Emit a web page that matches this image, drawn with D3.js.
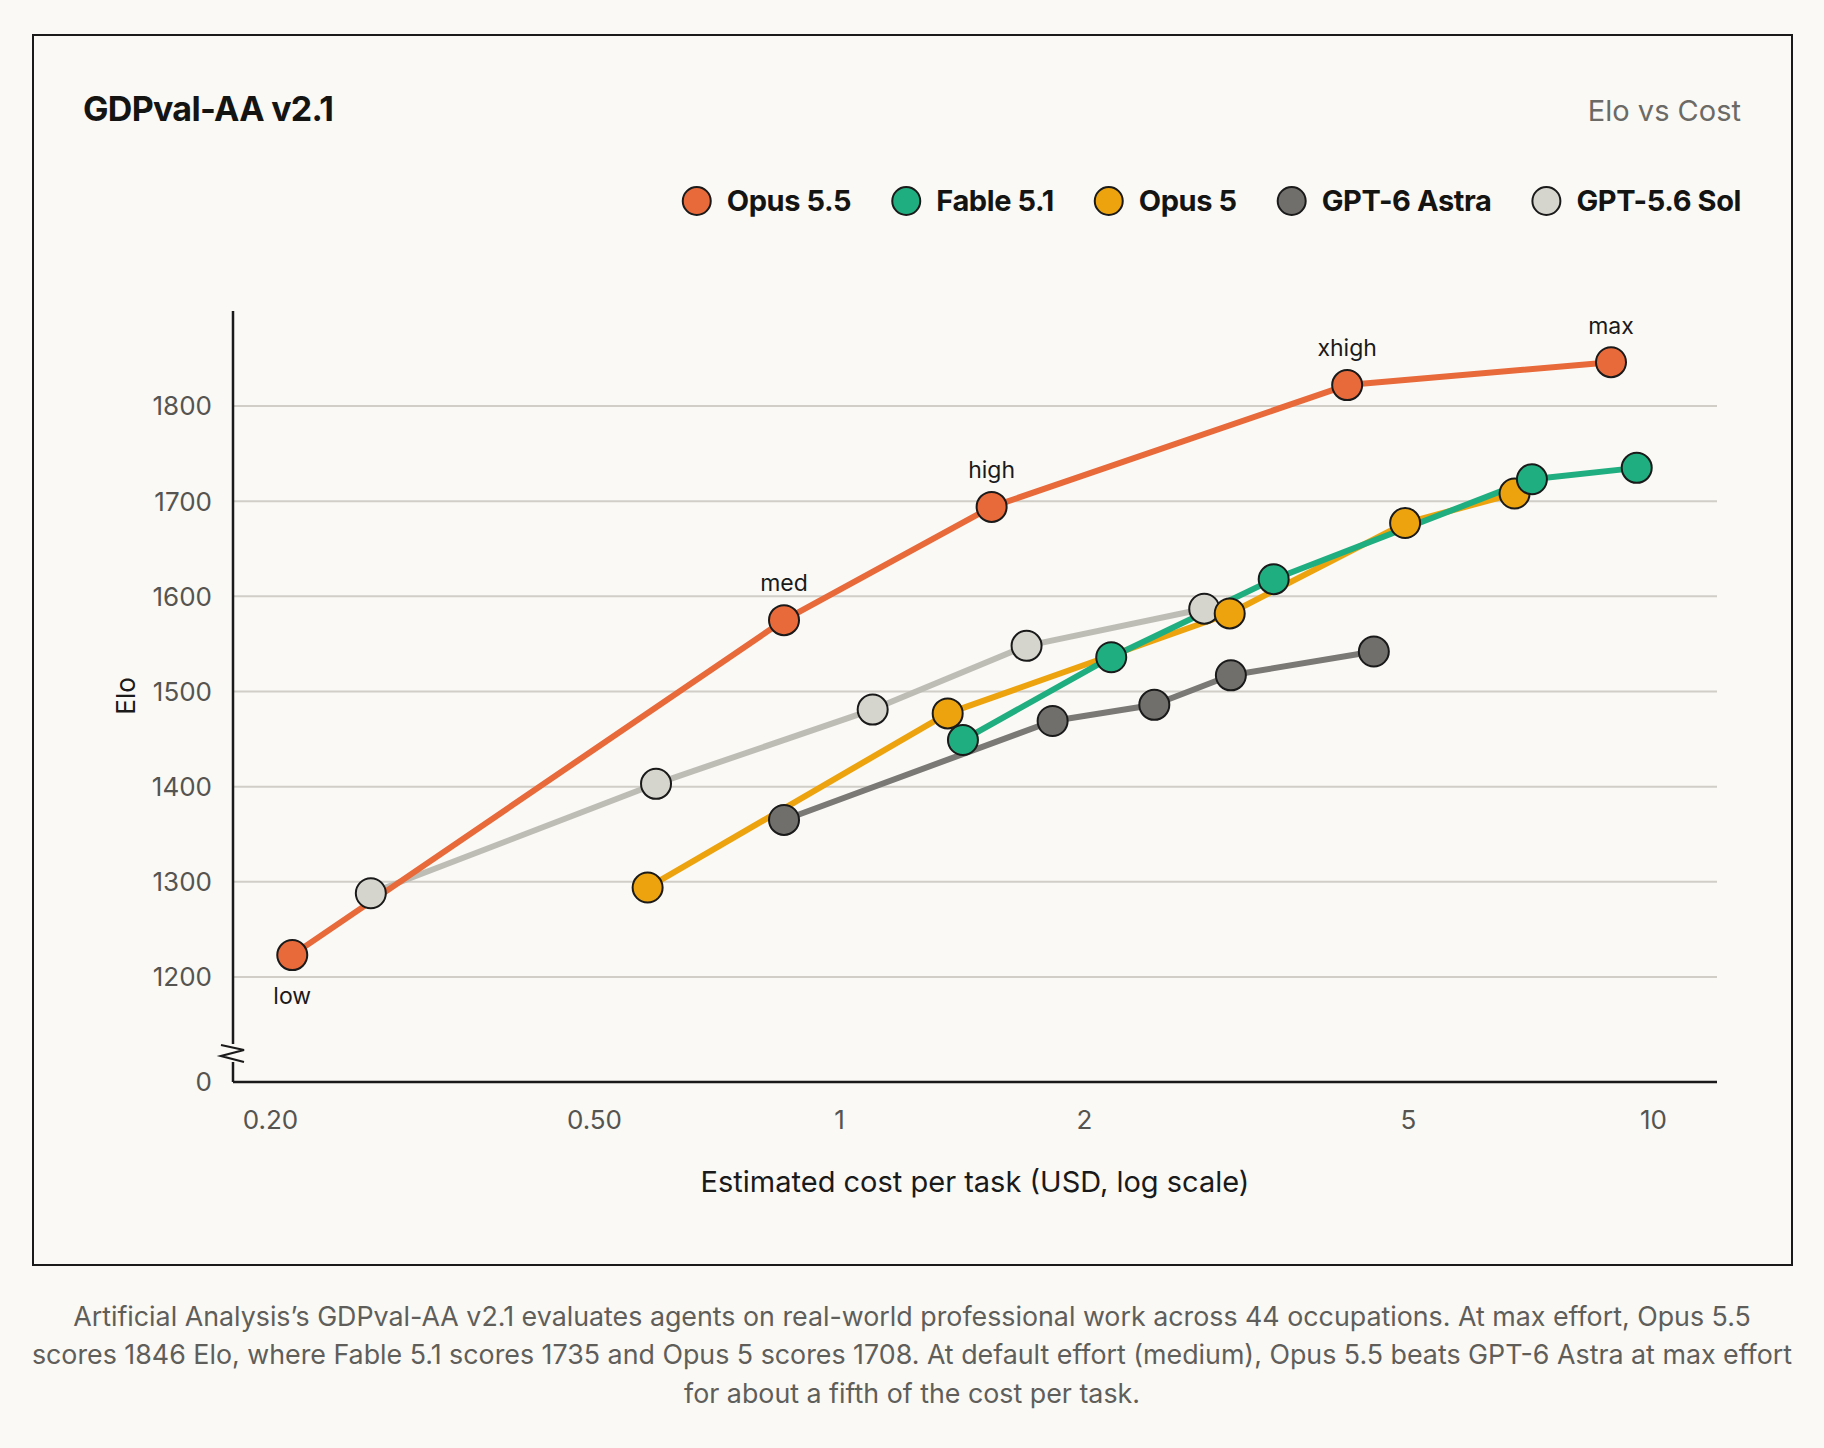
<!DOCTYPE html>
<html>
<head>
<meta charset="utf-8">
<script src="https://cdn.jsdelivr.net/npm/d3@7"></script>
<style>
  body { margin: 0; background: #faf9f5; }
  svg { display: block; font-family: Inter, "Open Sans", sans-serif; }
</style>
</head>
<body>
<div id="viz"></div>
<script>

// data
var seriesNames = ["Opus 5.5", "Fable 5.1", "Opus 5", "GPT-6 Astra", "GPT-5.6 Sol"];
var seriesFill  = ["#e8693a", "#1fae7f", "#eca30d", "#706f6b", "#d6d5cd"];
var seriesLine  = ["#e8693a", "#1fae7f", "#eca30d", "#7a7975", "#bebdb5"];

var opus55Cost = [0.213, 0.856, 1.54, 4.21, 8.88];
var opus55Elo  = [1223, 1575, 1694, 1822, 1846];
var opus55Tags = ["low", "med", "high", "xhigh", "max"];

var fableCost = [1.42, 2.16, 3.42, 7.10, 9.55];
var fableElo  = [1449, 1536, 1618, 1723, 1735];

var opus5Cost = [0.582, 1.36, 3.02, 4.96, 6.76];
var opus5Elo  = [1294, 1477, 1582, 1677, 1708];

var astraCost = [0.856, 1.83, 2.44, 3.03, 4.54];
var astraElo  = [1365, 1469, 1486, 1517, 1542];

var solCost = [0.266, 0.596, 1.10, 1.70, 2.81];
var solElo  = [1288, 1403, 1481, 1548, 1587];

var xTicks = [0.2, 0.5, 1, 2, 5, 10];
var xTickLabels = ["0.20", "0.50", "1", "2", "5", "10"];
var yTicks = [1200, 1300, 1400, 1500, 1600, 1700, 1800];

var captionLines = [
  "Artificial Analysis\u2019s GDPval-AA v2.1 evaluates agents on real-world professional work across 44 occupations. At max effort, Opus 5.5",
  "scores 1846 Elo, where Fable 5.1 scores 1735 and Opus 5 scores 1708. At default effort (medium), Opus 5.5 beats GPT-6 Astra at max effort",
  "for about a fifth of the cost per task."
];

var W = 1824, H = 1448;
var plotL = 233, plotR = 1717, plotT = 311, plotB = 1082;

var svg = d3.select("#viz").append("svg").attr("width", W).attr("height", H);
svg.append("rect").attr("width", W).attr("height", H).attr("fill", "#faf9f5");

// frame
svg.append("rect")
  .attr("x", 33).attr("y", 35).attr("width", 1759).attr("height", 1230)
  .attr("fill", "#faf9f5").attr("stroke", "#1a1a1a").attr("stroke-width", 2);

var x = d3.scaleLog().domain([0.2, 10]).range([270, 1653]);
var y = d3.scaleLinear().domain([1200, 1800]).range([977, 406]);
var yZero = plotB;

// gridlines
svg.append("g").selectAll("line").data(yTicks).join("line")
  .attr("x1", plotL).attr("x2", plotR)
  .attr("y1", function(d) { return y(d); }).attr("y2", function(d) { return y(d); })
  .attr("stroke", "#d0cec7").attr("stroke-width", 2);

// y labels
var yLab = svg.append("g").attr("font-size", 26).attr("fill", "#555450").attr("text-anchor", "end");
yLab.selectAll("text").data(yTicks).join("text")
  .attr("x", 212).attr("y", function(d) { return y(d); }).attr("dy", "0.36em")
  .text(function(d) { return d; });
yLab.append("text").attr("x", 212).attr("y", yZero).attr("dy", "0.36em").text("0");

// x axis via d3
var xAxis = d3.axisBottom(x).tickValues(xTicks).tickSize(0).tickPadding(0)
  .tickFormat(function(d, i) { return xTickLabels[i]; });
var gx = svg.append("g").attr("transform", "translate(0," + (yZero + 38) + ")").call(xAxis);
gx.select(".domain").remove();
gx.selectAll("text").attr("font-size", 26).attr("fill", "#555450")
  .attr("font-family", "Inter, 'Open Sans', sans-serif").attr("dy", "0.36em");

// axis lines with break
var axisC = "#1a1a1a";
svg.append("line").attr("x1", plotL).attr("x2", plotR).attr("y1", yZero).attr("y2", yZero)
  .attr("stroke", axisC).attr("stroke-width", 2.5);
svg.append("line").attr("x1", plotL).attr("x2", plotL).attr("y1", plotT).attr("y2", 1044)
  .attr("stroke", axisC).attr("stroke-width", 2.5);
svg.append("line").attr("x1", plotL).attr("x2", plotL).attr("y1", 1062).attr("y2", yZero)
  .attr("stroke", axisC).attr("stroke-width", 2.5);
svg.append("path")
  .attr("d", "M" + (plotL - 12) + ",1045 L" + (plotL + 11) + ",1050 L" + (plotL - 12) + ",1056 L" + (plotL + 11) + ",1062")
  .attr("fill", "none").attr("stroke", axisC).attr("stroke-width", 2.2);

// axis titles
svg.append("text").attr("x", 975).attr("y", 1182).attr("dy", "0.36em")
  .attr("text-anchor", "middle").attr("font-size", 29).attr("fill", "#1a1a1a")
  .text("Estimated cost per task (USD, log scale)");
svg.append("text").attr("transform", "translate(126,696) rotate(-90)")
  .attr("dy", "0.36em").attr("text-anchor", "middle").attr("font-size", 26).attr("fill", "#1a1a1a")
  .text("Elo");

// title
svg.append("text").attr("x", 83).attr("y", 121).attr("font-size", 34).attr("font-weight", 700)
  .attr("fill", "#141413").attr("letter-spacing", -0.7).text("GDPval-AA v2.1");
svg.append("text").attr("x", 1741).attr("y", 121).attr("font-size", 29).attr("text-anchor", "end")
  .attr("fill", "#6b6a66").text("Elo vs Cost");

// series lines + points
var allCost = [opus55Cost, fableCost, opus5Cost, astraCost, solCost];
var allElo  = [opus55Elo, fableElo, opus5Elo, astraElo, solElo];
var drawOrder = [4, 3, 2, 1, 0];

var line = d3.line().x(function(d) { return x(d[0]); }).y(function(d) { return y(d[1]); });

drawOrder.forEach(function(si) {
  var pts = d3.zip(allCost[si], allElo[si]);
  svg.append("path").datum(pts).attr("d", line)
    .attr("fill", "none").attr("stroke", seriesLine[si]).attr("stroke-width", 6)
    .attr("stroke-linejoin", "round");
});
drawOrder.forEach(function(si) {
  var pts = d3.zip(allCost[si], allElo[si]);
  svg.append("g").selectAll("circle").data(pts).join("circle")
    .attr("cx", function(d) { return x(d[0]); })
    .attr("cy", function(d) { return y(d[1]); })
    .attr("r", 15)
    .attr("fill", seriesFill[si]).attr("stroke", "#1a1a1a").attr("stroke-width", 2);
});

// effort tags on Opus 5.5
svg.append("g").attr("font-size", 23).attr("fill", "#1a1a1a").attr("text-anchor", "middle")
  .selectAll("text").data(d3.zip(opus55Cost, opus55Elo, opus55Tags)).join("text")
  .attr("x", function(d) { return x(d[0]); })
  .attr("y", function(d, i) { return y(d[1]) + (i === 0 ? 41 : -37); })
  .attr("dy", "0.36em")
  .text(function(d) { return d[2]; });

// legend, right aligned
var leg = svg.append("g").attr("font-size", 29).attr("font-weight", 700).attr("fill", "#141413")
  .attr("letter-spacing", -0.4);
var cursor = 1741;
for (var i = seriesNames.length - 1; i >= 0; i--) {
  var t = leg.append("text").attr("y", 201).attr("dy", "0.36em").text(seriesNames[i]);
  var w = t.node().getComputedTextLength();
  t.attr("x", cursor - w);
  leg.append("circle").attr("cx", cursor - w - 30).attr("cy", 201).attr("r", 14)
    .attr("fill", seriesFill[i]).attr("stroke", "#1a1a1a").attr("stroke-width", 2);
  cursor = cursor - w - 30 - 55;
}

// caption
svg.append("g").attr("font-size", 26.8).attr("fill", "#5f5e5a").attr("text-anchor", "middle")
  .selectAll("text").data(captionLines).join("text")
  .attr("x", 912).attr("y", function(d, i) { return 1316 + i * 38.5; }).attr("dy", "0.36em")
  .text(function(d) { return d; });

</script>
</body>
</html>
